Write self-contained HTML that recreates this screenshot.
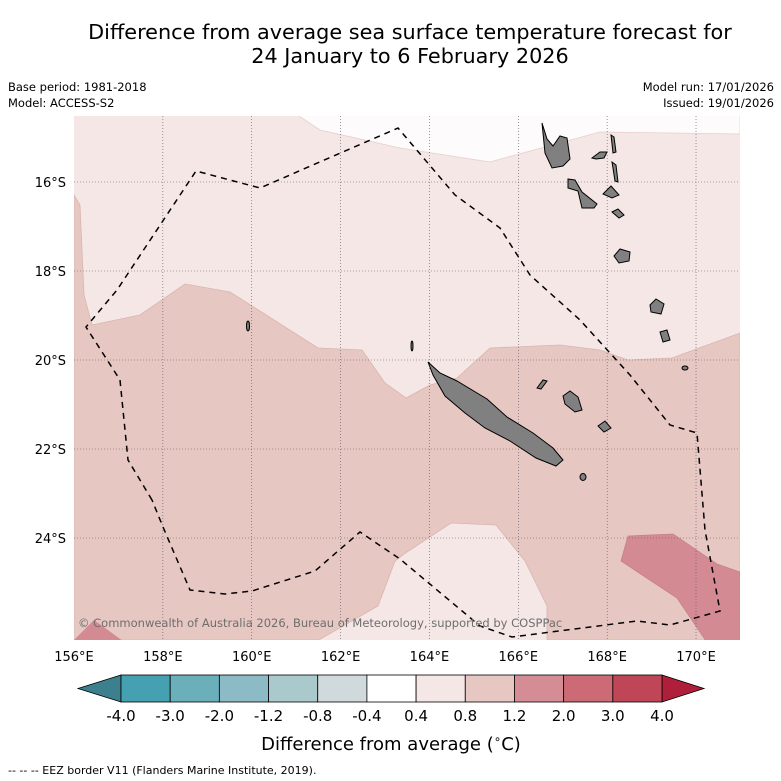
<!DOCTYPE html>
<html><head><meta charset="utf-8"><style>
body{margin:0;background:#fff;width:781px;height:781px;overflow:hidden;font-family:"DejaVu Sans","Liberation Sans",sans-serif}
svg{display:block}
</style></head><body>
<svg id="chart" width="781" height="781" viewBox="0 0 781 781" xmlns="http://www.w3.org/2000/svg">
<text x="410" y="39" text-anchor="middle" font-size="20.8" fill="#000">Difference from average sea surface temperature forecast for</text>
<text x="410" y="63" text-anchor="middle" font-size="20.8" fill="#000">24 January to 6 February 2026</text>
<text x="8" y="91" font-size="11.5">Base period: 1981-2018</text>
<text x="8" y="107" font-size="11.5">Model: ACCESS-S2</text>
<text x="774" y="91" font-size="11.5" text-anchor="end">Model run: 17/01/2026</text>
<text x="774" y="107" font-size="11.5" text-anchor="end">Issued: 19/01/2026</text>
<defs><clipPath id="mapclip"><rect x="74" y="116" width="666" height="524"/></clipPath></defs>
<g clip-path="url(#mapclip)">
<rect x="74" y="116" width="666" height="524" fill="#f4e7e6"/>
<polygon points="290,110 320,130 400,148 490,162 600,132 740,134 740,110" fill="#fdfbfb" stroke="#e6cfcc" stroke-width="0.8"/>
<polygon points="74,195 80,205 84,295 92,325 140,315 185,284 230,292 318,348 362,350 385,383 406,398 430,385 457,378 490,348 560,345 600,350 628,360 672,358 740,333 740,640 74,640" fill="#e7c7c2" stroke="#d9b5b0" stroke-width="0.8"/>
<polygon points="317,641 378,606 395,561 404,554 451,523 496,525 525,561 547,606 547,641" fill="#f4e7e6" stroke="#d9b5b0" stroke-width="0.8"/>
<polygon points="628,536 673,534 717,564 740,572 740,645 706,641 677,598 621,561" fill="#d48a92" stroke="#c7828a" stroke-width="0.8"/>
<polygon points="73,641 94,620 123,641" fill="#d48a92"/>
</g>
<g id="grid"></g>
<g fill="#808080" stroke="#000" stroke-width="1">
<polygon points="428,362 440,373 457,381 487,399 507,417 533,433 553,448 563,460 556,466 536,458 510,441 485,428 465,413 445,396 433,375"/>
<polygon points="542,123 547,139 553,146 560,136 567,138 570,159 563,166 552,168 545,153"/>
<polygon points="568,179 575,180 582,192 597,204 594,208 582,208 578,191 568,188"/>
<polygon points="592,158 600,152 607,152 604,158 596,159"/>
<polygon points="611,135 614,137 616,152 613,153"/>
<polygon points="612,162 616,165 618,182 615,181"/>
<polygon points="603,194 611,186 619,195 612,198"/>
<polygon points="612,212 618,209 624,215 619,218"/>
<polygon points="614,256 620,249 630,252 629,261 619,263"/>
<polygon points="650,305 656,299 664,304 661,314 651,312"/>
<polygon points="660,332 667,330 670,340 663,342"/>
<polygon points="563,396 570,391 578,397 582,410 575,412 565,404"/>
<polygon points="537,388 543,380 547,381 541,389"/>
<polygon points="598,426 605,421 611,428 604,432"/>
<ellipse cx="583" cy="477" rx="3" ry="3.5"/>
<ellipse cx="685" cy="368" rx="3" ry="2"/>
<ellipse cx="248" cy="326" rx="1.5" ry="5"/>
<ellipse cx="412" cy="346" rx="1" ry="5"/>
</g>
<polyline id="eez" fill="none" stroke="#000" stroke-width="1.5" stroke-dasharray="6,5" points="152,500 128,460 120,380 86,327 117,290 196,171 260,188 398,128 455,195 500,228 530,275 580,320 630,375 670,425 697,433 705,530 720,611 670,625 637,621 512,637 480,626 400,559 360,532 315,571 252,591 225,594 190,590 163,527 152,500"/>
<text x="78" y="627" font-size="11.5" fill="#6e6e6e">© Commonwealth of Australia 2026, Bureau of Meteorology, supported by COSPPac</text>
<g id="axes"></g>
<g id="cbar"></g>
<text x="391" y="750" font-size="18" text-anchor="middle">Difference from average (<tspan font-size="12" dy="-7">∘</tspan><tspan dy="7">C)</tspan></text>
<text x="8" y="774" font-size="11">--  --  -- EEZ border V11 (Flanders Marine Institute, 2019).</text>
</svg>
<script>
const lonTicks=[156,158,160,162,164,166,168,170];
const latTicks=[16,18,20,22,24];
const cbarLevels=["-4.0","-3.0","-2.0","-1.2","-0.8","-0.4","0.4","0.8","1.2","2.0","3.0","4.0"];
const cbarColors=["#45a1b1","#6aafba","#8dbbc5","#aac9cc","#d0d9db","#ffffff","#f4e7e6","#e7c7c2","#d48d95","#cc6a75","#bf4657"];
const cbarEnds=["#3b808c","#b01f3a"];
const NS="http://www.w3.org/2000/svg";
const xLon=l=>74+(l-156)*44.43;
const yLat=l=>182+(l-16)*44.5;
function mk(t,a,p){const e=document.createElementNS(NS,t);for(const k in a)e.setAttribute(k,a[k]);p.appendChild(e);return e;}
const grid=document.getElementById('grid'),axes=document.getElementById('axes'),cb=document.getElementById('cbar');
lonTicks.forEach(l=>{const x=xLon(l);
 if(l>156){const g=mk('line',{x1:x,y1:116,x2:x,y2:640,stroke:'#556',"stroke-width":0.6,"stroke-dasharray":"1,2"},grid);
 
 }
 const t=mk('text',{x:x,y:661,"font-size":13,"text-anchor":"middle"},axes);t.textContent=l+'°E';
 
 });
latTicks.forEach(l=>{const y=yLat(l);
 const g=mk('line',{x1:74,y1:y,x2:740,y2:y,stroke:'#655',"stroke-width":0.6,"stroke-dasharray":"1,2"},grid);
 
 
 const t=mk('text',{x:66,y:y+5,"font-size":13,"text-anchor":"end"},axes);t.textContent=l+'°S';
 
 });
const x0=121,x1=662,y0=675,y1=702,w=(x1-x0)/cbarColors.length;
const lt=mk('polygon',{points:`${x0},${y0} 78,${(y0+y1)/2} ${x0},${y1}`,fill:cbarEnds[0],stroke:'#000',"stroke-width":0.8},cb);


const rt=mk('polygon',{points:`${x1},${y0} 704,${(y0+y1)/2} ${x1},${y1}`,fill:cbarEnds[1],stroke:'#000',"stroke-width":0.8},cb);


cbarColors.forEach((c,i)=>{const r=mk('rect',{x:x0+i*w,y:y0,width:w,height:y1-y0,fill:c,stroke:'#000',"stroke-width":0.8},cb);
 
 });
cbarLevels.forEach((v,i)=>{const t=mk('text',{x:x0+i*w,y:721,"font-size":15,"text-anchor":"middle"},cb);t.textContent=v;
 
 });
</script>
</body></html>
